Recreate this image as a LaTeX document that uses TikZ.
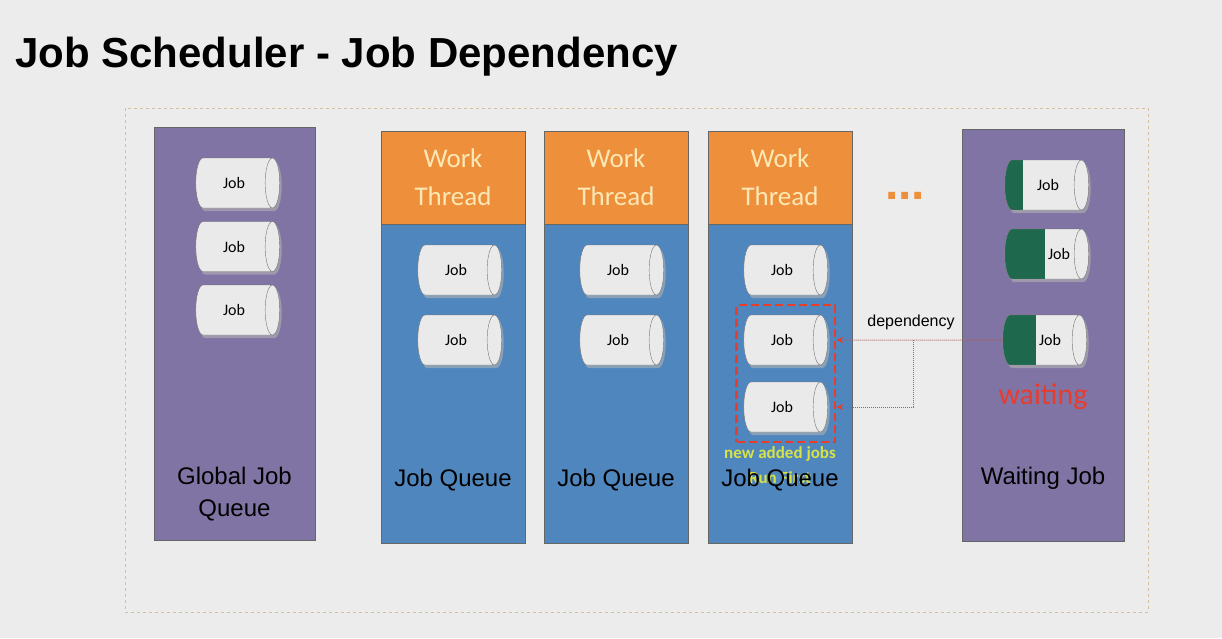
\documentclass[tikz,border=0pt]{standalone}
\usepackage{fontspec}
\setmainfont{Liberation Sans}
\newfontfamily\carlito{Carlito}
\usetikzlibrary{shapes.geometric,shadows,fit,arrows.meta}

\definecolor{bggray}{RGB}{236,236,236}
\definecolor{framecol}{RGB}{215,190,160}
\definecolor{purplecol}{RGB}{128,116,164}
\definecolor{queueblue}{RGB}{80,134,190}
\definecolor{threadorange}{RGB}{238,143,60}
\definecolor{threadtext}{RGB}{252,232,180}
\definecolor{jobgray}{RGB}{234,234,234}
\definecolor{jobgreen}{RGB}{30,105,78}
\definecolor{newred}{RGB}{232,60,45}
\definecolor{newyellow}{RGB}{214,226,70}
\definecolor{depline}{RGB}{170,95,95}

\begin{document}
\begin{tikzpicture}[x=1pt,y=-1pt]

% definitions
\tikzstyle{purplebox} = [rectangle, draw=black!60, fill=purplecol, minimum width=161pt, minimum height=413pt, inner sep=0pt]

\tikzstyle{thread} = [rectangle, draw=black!60, fill=threadorange, minimum width=144pt, minimum height=93pt, text=threadtext, align=center, font=\carlito\fontsize{27}{38}\selectfont, inner sep=0pt]

\tikzstyle{queue} = [rectangle, draw=black!60, fill=queueblue, minimum width=144pt, minimum height=319pt, anchor=north, inner sep=0pt]

\tikzstyle{job} = [cylinder, shape border rotate=0, aspect=1.3, minimum width=50pt, minimum height=84pt, draw=black!55, fill=jobgray, font=\carlito\fontsize{16}{16}\selectfont, inner sep=0pt, drop shadow={shadow xshift=2pt, shadow yshift=-3pt, fill=black!30, opacity=0.6}]

\tikzstyle{coltext} = [text=black, align=center, font=\fontsize{24}{32}\selectfont, inner sep=0pt]

\tikzstyle{dep} = [densely dotted, depline, line width=1pt, -{Stealth[length=7pt, width=6pt, newred]}]

% background
\useasboundingbox [fill=bggray] (0,0) rectangle (1222,638);
\node (title) [anchor=base west, inner sep=0pt, font=\bfseries\fontsize{42}{42}\selectfont] at (15,67) {Job Scheduler - Job Dependency};
\draw [framecol, dashed, line width=0.8pt] (125,108) rectangle (1148,612);

% global queue
\node (global) [purplebox] at (234.5,334) {};
\node (g1) [job] at (234,183) {Job};
\node (g2) [job, below of=g1, node distance=63.5pt] {Job};
\node (g3) [job, below of=g2, node distance=63.5pt] {Job};
\node (globaltext) [coltext] at (234.5,494) {Global Job\\Queue};

% work threads
\node (th1) [thread] at (453,177.5) {Work\\Thread};
\node (q1) [queue] at (th1.south) {};
\node (th2) [thread] at (616,177.5) {Work\\Thread};
\node (q2) [queue] at (th2.south) {};
\node (th3) [thread] at (780,177.5) {Work\\Thread};
\node (q3) [queue] at (th3.south) {};

\node (j11) [job] at (456,270) {Job};
\node (j12) [job, below of=j11, node distance=70pt] {Job};
\node (j21) [job] at (618,270) {Job};
\node (j22) [job, below of=j21, node distance=70pt] {Job};
\node (j31) [job] at (782,270) {Job};
\node (j32) [job] at (782,340) {Job};
\node (j33) [job] at (782,407) {Job};

\node (newjobs) [fit=(j32)(j33), draw=newred, line width=2.5pt, dash pattern=on 8pt off 4pt, inner xsep=7pt, inner ysep=10pt] {};
\node (runfirst) [text=newyellow, font=\carlito\bfseries\fontsize{17}{17}\selectfont] at (780,478) {Run First};

\node (q1text) [coltext] at (453,480) {Job Queue};
\node (q2text) [coltext] at (616,480) {Job Queue};
\node (q3text) [coltext] at (780,480) {Job Queue};
\node (newtext) [text=newyellow, font=\carlito\bfseries\fontsize{17}{17}\selectfont] at (780,454) {new added jobs};

\node (dots) [text=threadorange, font=\bfseries\fontsize{48}{48}\selectfont] at (905,196) {...};

% waiting jobs
\node (waitbox) [purplebox, minimum width=162pt, minimum height=412pt] at (1043,335) {};
\node (w1) [job, path picture={\fill[jobgreen] (path picture bounding box.south west) rectangle ([xshift=18pt]path picture bounding box.north west);}] at (1043,185) {\hspace*{10pt}Job};
\node (w2) [job, path picture={\fill[jobgreen] (path picture bounding box.south west) rectangle ([xshift=40pt]path picture bounding box.north west);}] at (1043,254) {\hspace*{32pt}Job};
\node (w3) [job, path picture={\fill[jobgreen] (path picture bounding box.south west) rectangle ([xshift=33pt]path picture bounding box.north west);}] at (1041,340) {\hspace*{18pt}Job};
\node (waiting) [text=newred, font=\carlito\fontsize{30}{30}\selectfont] at (1043,397) {waiting};
\node (waittext) [coltext] at (1043,478) {Waiting Job};

% dependency
\node (deptext) [font=\fontsize{16}{16}\selectfont] at (911,322) {dependency};
\coordinate (split) at (913,340);
\draw [dep] (w3.west) -- (newjobs.east |- j32.east);
\draw [dep] (split) |- (newjobs.east |- j33.east);

\end{tikzpicture}
\end{document}
